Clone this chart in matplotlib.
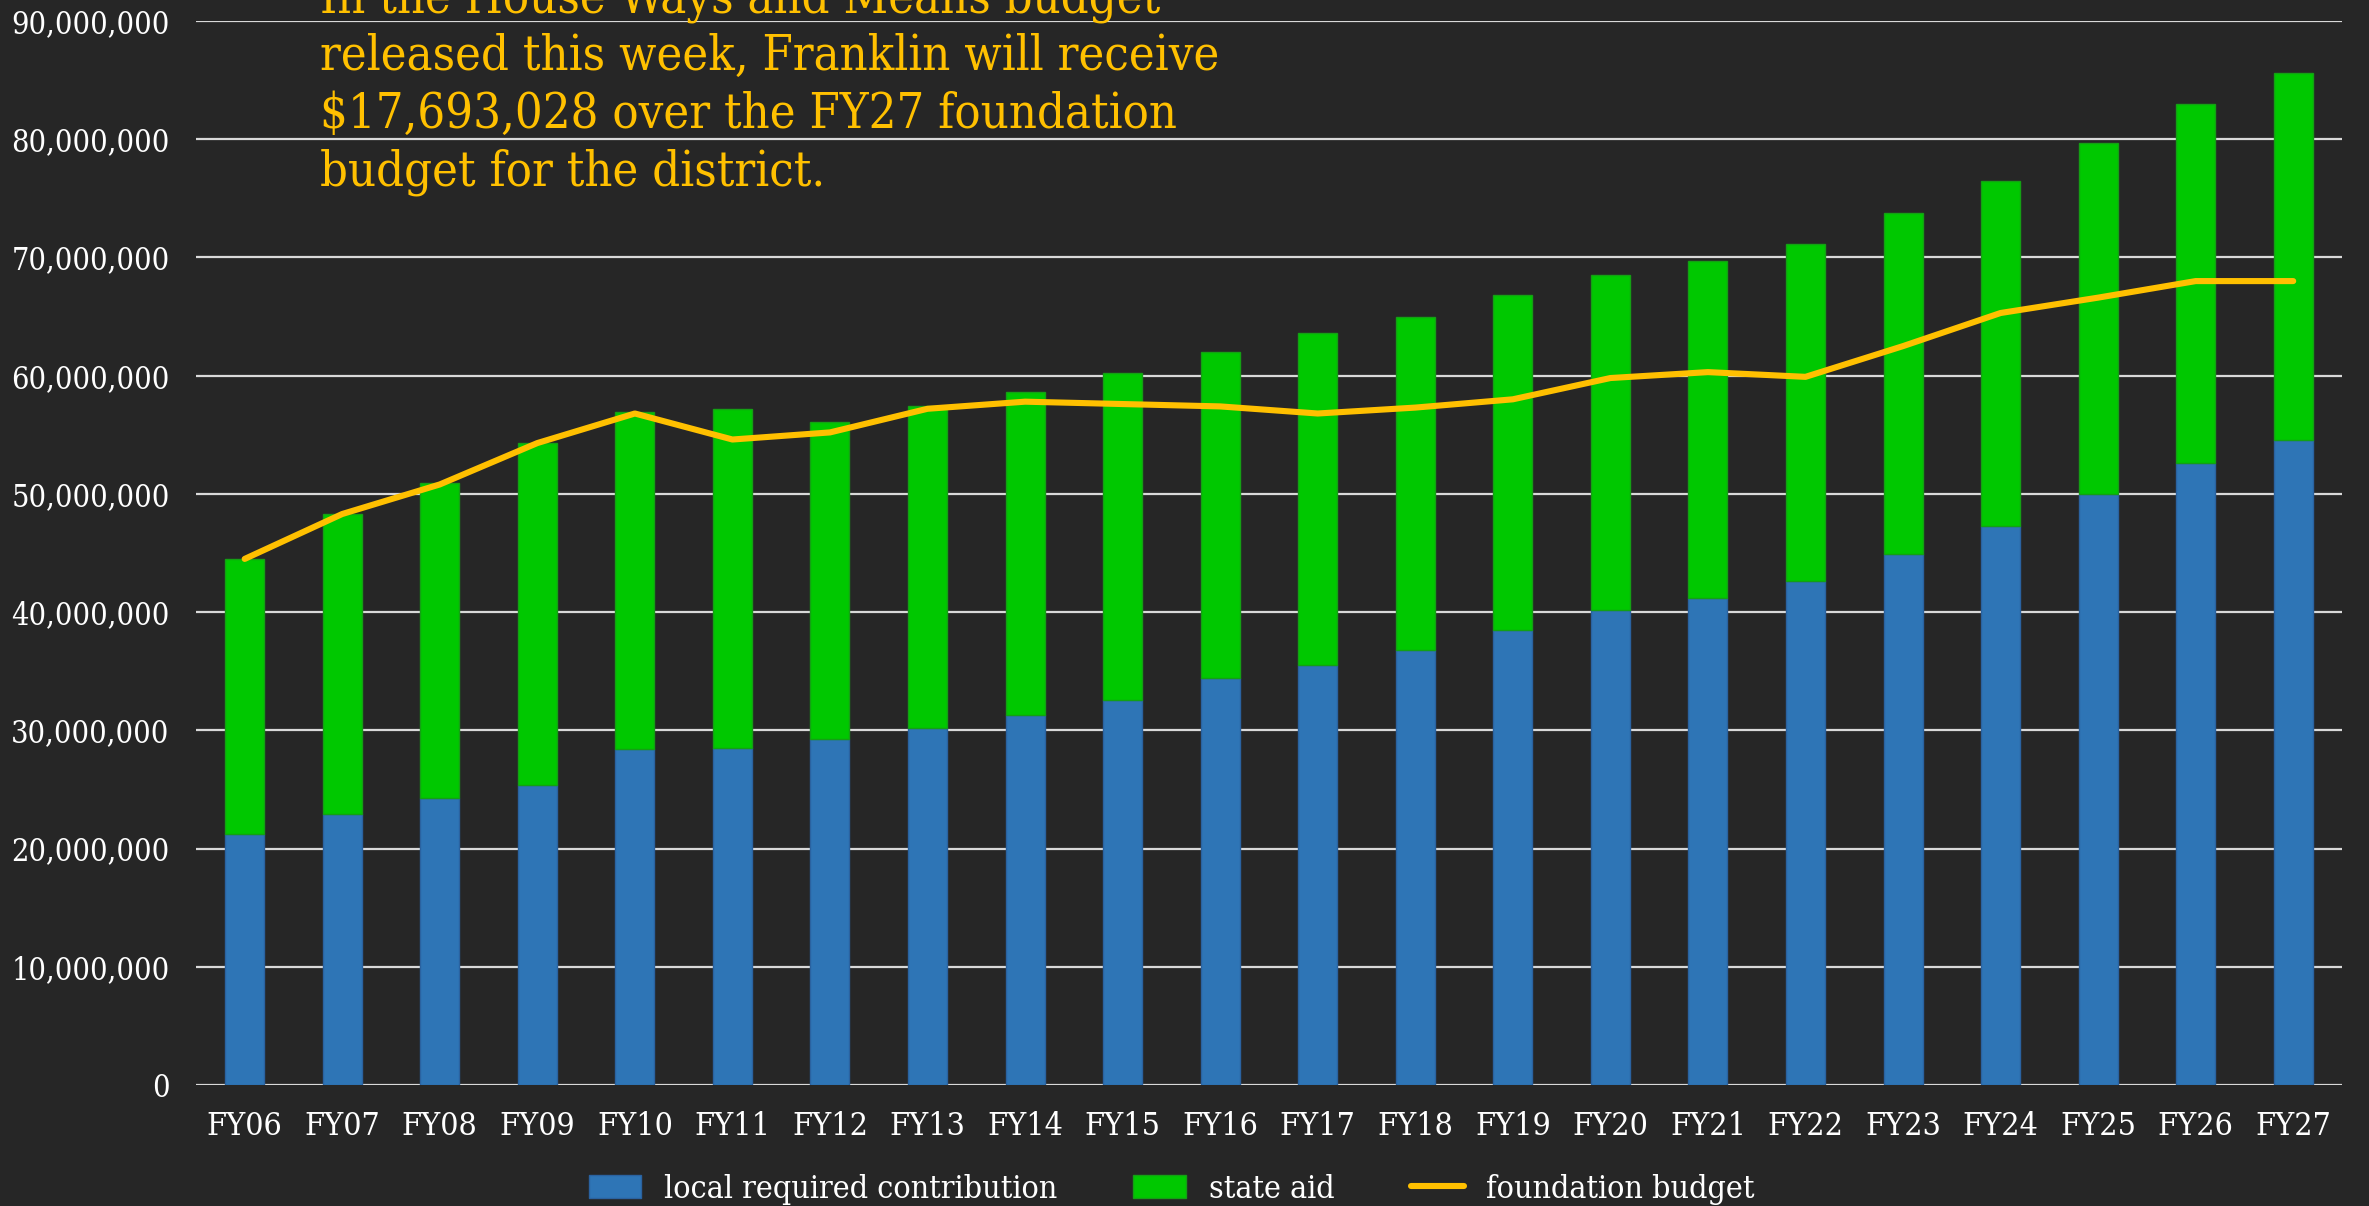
import matplotlib
matplotlib.use('Agg')
import matplotlib.pyplot as plt
import numpy as np
from matplotlib.ticker import FuncFormatter

years = ['FY06', 'FY07', 'FY08', 'FY09', 'FY10', 'FY11', 'FY12', 'FY13', 'FY14', 'FY15', 'FY16',
         'FY17', 'FY18', 'FY19', 'FY20', 'FY21', 'FY22', 'FY23', 'FY24', 'FY25', 'FY26', 'FY27']

# millions of dollars
local_contribution = [21.2, 22.9, 24.3, 25.4, 28.4, 28.5, 29.3, 30.2, 31.3, 32.6, 34.4,
                      35.5, 36.8, 38.5, 40.2, 41.2, 42.6, 44.9, 47.3, 50.0, 52.6, 54.6]
total_funding = [44.5, 48.3, 50.9, 54.3, 56.9, 57.2, 56.1, 57.4, 58.6, 60.2, 62.0,
                 63.6, 65.0, 66.8, 68.5, 69.7, 71.1, 73.8, 76.5, 79.7, 83.0, 85.6]
foundation_budget = [44.5, 48.3, 50.8, 54.3, 56.8, 54.6, 55.2, 57.2, 57.8, 57.6, 57.4,
                     56.8, 57.3, 58.0, 59.8, 60.3, 59.9, 62.5, 65.3, 66.6, 68.0, 68.0]

local_contribution = np.array(local_contribution) * 1e6
state_aid = np.array(total_funding) * 1e6 - local_contribution
foundation_budget = np.array(foundation_budget) * 1e6

note = ('In the House Ways and Means budget\n'
        'released this week, Franklin will receive\n'
        '$17,693,028 over the FY27 foundation\n'
        'budget for the district.')

bg = '#262626'
plt.rcParams['font.family'] = 'DejaVu Serif'
plt.rcParams['font.stretch'] = 'condensed'

fig = plt.figure(figsize=(23.69, 12.06), dpi=100, facecolor=bg)
ax = fig.add_axes([0.0827, 0.1003, 0.9059, 0.8823])
ax.set_facecolor(bg)

x = np.arange(len(years))
b1 = ax.bar(x, local_contribution, width=0.4, color='#2E75B6', edgecolor='#2a62a0', linewidth=1,
            label='local required contribution', zorder=2)
b2 = ax.bar(x, state_aid, width=0.4, bottom=local_contribution, color='#00C800',
            edgecolor='#14a014', linewidth=1, label='state aid', zorder=2)
l1, = ax.plot(x, foundation_budget, color='#FFC000', linewidth=4.4, solid_capstyle='round',
              label='foundation budget', zorder=3)

ax.set_xlim(-0.5, len(years) - 0.5)
ax.set_ylim(0, 90e6)
ax.set_yticks(np.arange(0, 90e6 + 1, 10e6))
ax.yaxis.set_major_formatter(FuncFormatter(lambda v, p: f'{int(v):,}'))
ax.set_xticks(x)
ax.set_xticklabels(years)
ax.tick_params(axis='both', length=0, colors='white')
ax.tick_params(axis='y', pad=19, labelsize=22)
ax.tick_params(axis='x', pad=19, labelsize=23)
ax.grid(axis='y', color='#d9d9d9', linewidth=1.6, zorder=0)
ax.set_axisbelow(True)
for s in ax.spines.values():
    s.set_visible(False)

fig.text(0.135, 0.929, note, color='#FFC000', fontsize=35, va='center', ha='left',
         linespacing=1.28)

leg = fig.legend(handles=[b1, b2, l1], loc='center', bbox_to_anchor=(0.4945, 0.014), ncol=3,
                 frameon=False, fontsize=23, handlelength=1.65, handleheight=0.75,
                 handletextpad=0.7, columnspacing=2.4, labelcolor='white')

fig.savefig('out.png', dpi=100, facecolor=bg)
